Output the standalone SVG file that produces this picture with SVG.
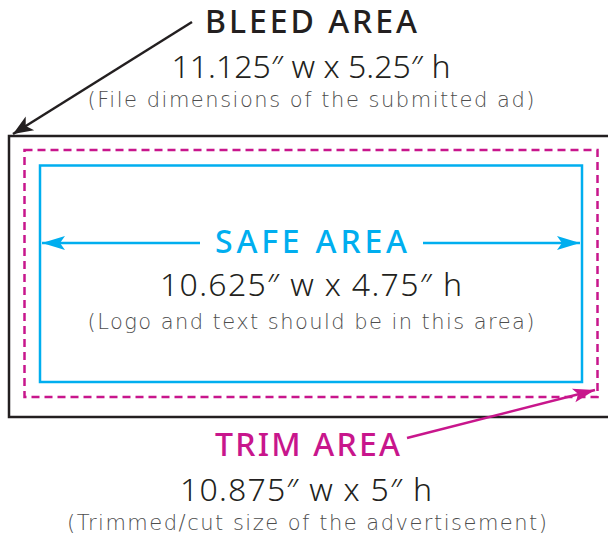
<svg xmlns="http://www.w3.org/2000/svg" width="608" height="537" viewBox="0 0 608 537">
<style>
  text { font-family: "DejaVu Sans", "Noto Sans", "Liberation Sans", sans-serif; text-anchor: middle; }
  .title { font-family: "Noto Sans", "DejaVu Sans", sans-serif; font-size: 32px; font-weight: 500; }
  .dim { font-family: "Noto Sans", "DejaVu Sans", sans-serif; font-size: 32px; fill: #231f20; font-weight: 300; }
  .note { font-size: 21px; fill: #4d4d4d; font-weight: 200; }
  .bleed { fill: #231f20; }
  .safe { fill: #00aeef; }
  .trim { fill: #c8168c; }
</style>
<defs>
  <marker id="hBlack" markerUnits="userSpaceOnUse" viewBox="-22 -9 24 18" refX="0" refY="0" markerWidth="24" markerHeight="18" orient="auto">
    <path d="M0,0 L-20,-8 L-15,0 L-20,8 Z" fill="#231f20"/>
  </marker>
  <marker id="hCyan" markerUnits="userSpaceOnUse" viewBox="-24 -9 26 18" refX="0" refY="0" markerWidth="26" markerHeight="18" orient="auto">
    <path d="M0,0 L-23,-7 L-18,0 L-23,7 Z" fill="#00aeef"/>
  </marker>
  <marker id="hMag" markerUnits="userSpaceOnUse" viewBox="-24 -9 26 18" refX="0" refY="0" markerWidth="26" markerHeight="18" orient="auto">
    <path d="M0,0 L-22,-7 L-17,0 L-22,7 Z" fill="#c8168c"/>
  </marker>
</defs>

<g id="bleed-area">
  <rect x="9" y="136" width="620" height="281" fill="none" stroke="#231f20" stroke-width="2.5"/>
</g>
<g id="trim-area">
  <rect x="24.5" y="150" width="573" height="247" fill="none" stroke="#c8168c" stroke-width="2.5" stroke-dasharray="8 5"/>
</g>
<g id="safe-area">
  <rect x="40" y="165.5" width="542" height="216.5" fill="none" stroke="#00aeef" stroke-width="2.5"/>
</g>

<g id="connectors">
  <line x1="192" y1="22" x2="13" y2="134" stroke="#231f20" stroke-width="2.5" marker-end="url(#hBlack)"/>
  <line x1="200" y1="243" x2="42" y2="243" stroke="#00aeef" stroke-width="2.5" marker-end="url(#hCyan)"/>
  <line x1="423" y1="243" x2="580" y2="243" stroke="#00aeef" stroke-width="2.5" marker-end="url(#hCyan)"/>
  <line x1="407" y1="438" x2="595" y2="390" stroke="#c8168c" stroke-width="2.5" marker-end="url(#hMag)"/>
</g>

<g id="bleed-label">
  <text class="title bleed" x="311" y="33" textLength="212" lengthAdjust="spacing">BLEED AREA</text>
  <text class="dim" x="311" y="78" textLength="279" lengthAdjust="spacing">11.125″ w x 5.25″ h</text>
  <text class="note" x="311" y="107" textLength="447" lengthAdjust="spacing">(File dimensions of the submitted ad)</text>
</g>
<g id="safe-label">
  <text class="title safe" x="311" y="253" textLength="192" lengthAdjust="spacing">SAFE AREA</text>
  <text class="dim" x="311" y="296" textLength="302" lengthAdjust="spacing">10.625″ w x 4.75″ h</text>
  <text class="note" x="311" y="329" textLength="447" lengthAdjust="spacing">(Logo and text should be in this area)</text>
</g>
<g id="trim-label">
  <text class="title trim" x="307.5" y="456" textLength="185" lengthAdjust="spacing">TRIM AREA</text>
  <text class="dim" x="306" y="501" textLength="252" lengthAdjust="spacing">10.875″ w x 5″ h</text>
  <text class="note" x="307" y="530" textLength="480" lengthAdjust="spacing">(Trimmed/cut size of the advertisement)</text>
</g>
</svg>
